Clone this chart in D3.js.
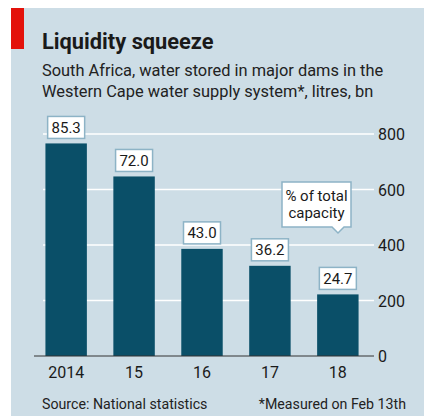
<!DOCTYPE html>
<html>
<head>
<meta charset="utf-8">
<script src="https://cdn.jsdelivr.net/npm/d3@7"></script>
<style>
  body { margin: 0; background: #fff; }
  svg text { font-family: Roboto, "Open Sans", sans-serif; }
</style>
</head>
<body>
<div id="chart"></div>
<script>
var years = ["2014", "15", "16", "17", "18"];
var stored = [766, 647, 386, 325, 222];      // litres, bn
var pctCapacity = ["85.3", "72.0", "43.0", "36.2", "24.7"];
var yTicks = [0, 200, 400, 600, 800];

var W = 424, H = 416;
var svg = d3.select("#chart").append("svg")
    .attr("width", W)
    .attr("height", H);

// panel
svg.append("rect")
    .attr("x", 11).attr("y", 8)
    .attr("width", W - 11).attr("height", H - 8)
    .attr("fill", "#cddde6");
svg.append("rect")
    .attr("x", 11).attr("y", 8)
    .attr("width", 13).attr("height", 41)
    .attr("fill", "#e3120b");

svg.append("text")
    .attr("x", 42).attr("y", 49)
    .attr("font-size", "21.8px")
    .attr("font-weight", "bold")
    .attr("fill", "#1a1a1a")
    .text("Liquidity squeeze");

var sub = ["South Africa, water stored in major dams in the",
    "Western Cape water supply system*, litres, bn"];
svg.selectAll(".sub").data(sub).enter().append("text")
    .attr("class", "sub")
    .attr("x", 42)
    .attr("y", function (d, i) { return 76 + i * 21; })
    .attr("font-size", "16.4px")
    .attr("fill", "#222")
    .text(function (d) { return d; });

// scales
var x = d3.scaleBand().domain(years).range([40, 364]).paddingInner(0.39).paddingOuter(0.08);
var y = d3.scaleLinear().domain([0, 800]).range([356, 134]);

// gridlines
svg.selectAll(".grid").data(yTicks.slice(1)).enter().append("line")
    .attr("class", "grid")
    .attr("x1", 43).attr("x2", 374)
    .attr("y1", function (d) { return y(d); })
    .attr("y2", function (d) { return y(d); })
    .attr("stroke", "#fff")
    .attr("stroke-width", 1.5);

// bars
svg.selectAll(".bar").data(stored).enter().append("rect")
    .attr("class", "bar")
    .attr("x", function (d, i) { return x(years[i]); })
    .attr("y", function (d) { return y(d); })
    .attr("width", x.bandwidth())
    .attr("height", function (d) { return y(0) - y(d); })
    .attr("fill", "#0a4f68");

// zero line
svg.append("line")
    .attr("x1", 34).attr("x2", 374)
    .attr("y1", y(0)).attr("y2", y(0))
    .attr("stroke", "#333")
    .attr("stroke-width", 1);

// y axis labels
var yAxis = d3.axisRight(y).tickValues(yTicks).tickSize(0).tickPadding(0);
var gy = svg.append("g").attr("transform", "translate(378,0)").call(yAxis);
gy.select(".domain").remove();
gy.selectAll("text")
    .attr("font-size", "16px")
    .attr("fill", "#1a1a1a")
    .attr("dy", "0.35em")
    .style("font-family", "Roboto, sans-serif");

// x axis labels
var xAxis = d3.axisBottom(x).tickSize(0).tickPadding(0);
var gx = svg.append("g").attr("transform", "translate(0,367)").call(xAxis);
gx.select(".domain").remove();
gx.selectAll("text")
    .attr("font-size", "16px")
    .attr("fill", "#1a1a1a")
    .attr("dy", "0.71em")
    .style("font-family", "Roboto, sans-serif");

// value boxes
var bw = 37, bh = 22;
var boxes = svg.selectAll(".lbl").data(stored).enter().append("g").attr("class", "lbl");
boxes.append("rect")
    .attr("x", function (d, i) { return x(years[i]) + x.bandwidth() / 2 - bw / 2; })
    .attr("y", function (d) { return y(d) - 5 - bh; })
    .attr("width", bw).attr("height", bh)
    .attr("fill", "#fff")
    .attr("stroke", "#8db3c6")
    .attr("stroke-width", 1.5);
boxes.append("text")
    .attr("x", function (d, i) { return x(years[i]) + x.bandwidth() / 2; })
    .attr("y", function (d) { return y(d) - 5 - bh / 2; })
    .attr("dy", "0.36em")
    .attr("text-anchor", "middle")
    .attr("font-size", "15px")
    .attr("fill", "#1a1a1a")
    .text(function (d, i) { return pctCapacity[i]; });

// annotation callout
var ax = 282, ay = 182, aw = 69, ah = 45;
svg.append("path")
    .attr("d", "M" + ax + "," + ay + "h" + aw + "v" + ah + "h-7l-6,6l-6,-6h-" + (aw - 19) + "z")
    .attr("fill", "#fff")
    .attr("stroke", "#8db3c6")
    .attr("stroke-width", 1.5);
svg.selectAll(".ann").data(["% of total", "capacity"]).enter().append("text")
    .attr("class", "ann")
    .attr("x", ax + aw / 2)
    .attr("y", function (d, i) { return ay + 19 + i * 17; })
    .attr("text-anchor", "middle")
    .attr("font-size", "15px")
    .attr("fill", "#1a1a1a")
    .text(function (d) { return d; });

// footer
svg.append("text")
    .attr("x", 42).attr("y", 409)
    .attr("font-size", "14.2px")
    .attr("fill", "#222")
    .text("Source: National statistics");
svg.append("text")
    .attr("x", 406).attr("y", 409)
    .attr("text-anchor", "end")
    .attr("font-size", "14.2px")
    .attr("fill", "#222")
    .text("*Measured on Feb 13th");
</script>
</body>
</html>
